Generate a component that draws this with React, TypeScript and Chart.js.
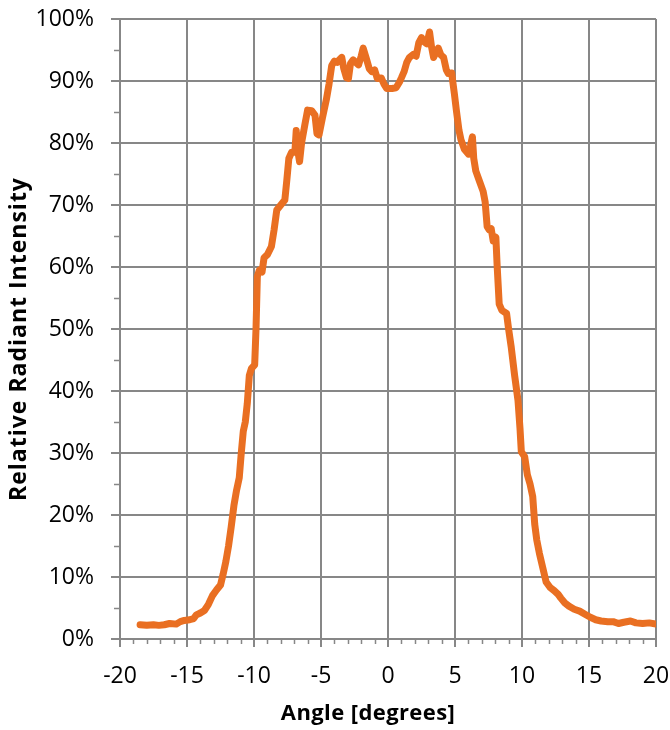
import { useEffect, useRef } from 'react';
import { Chart, registerables } from 'chart.js';

Chart.register(...registerables);

// ---- data ----
const angles = [
  -18.5, -18.0, -17.5, -17.1, -16.7, -16.3, -15.8, -15.5, -15.2, -14.8,
  -14.5, -14.3, -14.0, -13.7, -13.4, -13.1, -12.8, -12.5, -12.3, -12.1,
  -11.9, -11.7, -11.5, -11.3, -11.1, -10.95, -10.8, -10.65, -10.5, -10.35,
  -10.2, -9.95, -9.85, -9.75, -9.6, -9.4, -9.25, -9.0, -8.7, -8.5,
  -8.3, -8.0, -7.7, -7.55, -7.4, -7.2, -6.95, -6.85, -6.75, -6.6,
  -6.45, -6.2, -6.0, -5.7, -5.45, -5.3, -5.15, -4.9, -4.6, -4.4,
  -4.2, -4.0, -3.8, -3.6, -3.45, -3.3, -3.1, -2.95, -2.8, -2.6,
  -2.4, -2.2, -2.0, -1.85, -1.6, -1.4, -1.2, -1.0, -0.8, -0.5,
  -0.3, -0.1, 0.3, 0.6, 0.85, 1.0, 1.2, 1.4, 1.6, 1.9,
  2.1, 2.3, 2.5, 2.7, 2.9, 3.1, 3.25, 3.4, 3.55, 3.75,
  3.95, 4.15, 4.35, 4.5, 4.75, 4.95, 5.1, 5.3, 5.45, 5.7,
  6.0, 6.15, 6.3, 6.4, 6.55, 6.8, 7.1, 7.25, 7.4, 7.55,
  7.7, 7.85, 8.05, 8.15, 8.3, 8.5, 8.85, 9.0, 9.2, 9.45,
  9.7, 9.85, 9.95, 10.2, 10.4, 10.6, 10.8, 10.95, 11.1, 11.3,
  11.55, 11.8, 12.1, 12.4, 12.7, 12.9, 13.2, 13.5, 13.9, 14.3,
  14.7, 15.1, 15.5, 15.9, 16.4, 16.8, 17.2, 17.6, 18.1, 18.5,
  19.0, 19.5, 20.0,
];

const intensity = [
  2.3, 2.2, 2.3, 2.2, 2.3, 2.5, 2.4, 2.8, 3.0, 3.1,
  3.3, 3.9, 4.2, 4.6, 5.6, 7.0, 7.9, 8.7, 10.5, 12.5,
  15.0, 18.1, 21.5, 24.0, 26.0, 30.0, 33.5, 35.0, 38.0, 42.5,
  43.6, 44.2, 50.0, 58.5, 59.5, 59.2, 61.5, 62.0, 63.3, 66.0,
  69.2, 70.0, 70.8, 74.0, 77.5, 78.5, 78.5, 82.0, 79.0, 77.0,
  80.0, 83.0, 85.3, 85.2, 84.5, 81.5, 81.3, 84.0, 87.0, 89.5,
  92.5, 93.2, 93.0, 93.5, 93.8, 92.0, 90.5, 90.4, 92.8, 93.4,
  93.0, 92.6, 94.0, 95.3, 93.5, 92.0, 91.5, 91.8, 90.4, 90.5,
  89.5, 88.8, 88.8, 88.9, 89.8, 90.5, 91.5, 93.0, 93.8, 94.3,
  94.0, 96.2, 97.0, 96.3, 96.0, 97.9, 95.5, 93.8, 94.5, 95.3,
  94.2, 93.8, 91.8, 91.2, 91.3, 88.0, 85.3, 82.0, 80.5, 79.0,
  78.2, 79.5, 81.0, 77.5, 75.5, 74.0, 72.2, 70.5, 66.5, 66.0,
  66.2, 64.2, 64.8, 60.0, 54.0, 53.0, 52.5, 50.0, 47.0, 42.5,
  38.5, 34.0, 30.2, 29.4, 26.5, 25.0, 23.0, 18.5, 16.0, 13.8,
  11.5, 9.2, 8.3, 7.8, 7.2, 6.6, 5.8, 5.3, 4.8, 4.5,
  4.0, 3.5, 3.1, 2.9, 2.8, 2.8, 2.5, 2.7, 2.9, 2.6,
  2.5, 2.6, 2.4,
];

const xMin = -20;
const xMax = 20;
const xMajorStep = 5;
const xMinorStep = 1;
const yMin = 0;
const yMax = 100;
const yMajorStep = 10;
const yMinorStep = 5;

const xTitle = 'Angle [degrees]';
const yTitle = 'Relative Radiant Intensity';

// ---- styles ----
const LINE_COLOR = '#E96F22';
const GRID_COLOR = '#878787';
const FONT = '"Open Sans", "Liberation Sans", sans-serif';

const extrasPlugin = {
  id: 'extras',
  afterDraw(chart: any) {
    const { ctx, chartArea, scales } = chart;
    const xs = scales.x;
    const ys = scales.y;
    ctx.save();
    ctx.strokeStyle = GRID_COLOR;
    ctx.lineWidth = 1.5;
    // minor ticks on x axis
    for (let v = xMin; v <= xMax; v += xMinorStep) {
      if (Math.abs(v % xMajorStep) < 1e-9) continue;
      const px = Math.round(xs.getPixelForValue(v)) + 0.5;
      ctx.beginPath();
      ctx.moveTo(px, chartArea.bottom);
      ctx.lineTo(px, chartArea.bottom + 5);
      ctx.stroke();
    }
    // minor ticks on y axis
    for (let v = yMin + yMinorStep; v < yMax; v += yMajorStep) {
      const py = Math.round(ys.getPixelForValue(v)) + 0.5;
      ctx.beginPath();
      ctx.moveTo(chartArea.left - 6, py);
      ctx.lineTo(chartArea.left, py);
      ctx.stroke();
    }
    // axis titles
    ctx.fillStyle = '#000';
    ctx.textAlign = 'center';
    ctx.textBaseline = 'alphabetic';
    ctx.font = `bold 22px ${FONT}`;
    (ctx as any).letterSpacing = '0.4px';
    ctx.fillText(xTitle, (chartArea.left + chartArea.right) / 2 - 20, chartArea.bottom + 81);

    ctx.font = `bold 23px ${FONT}`;
    (ctx as any).letterSpacing = '1px';
    ctx.translate(26, (chartArea.top + chartArea.bottom) / 2 + 10);
    ctx.rotate(-Math.PI / 2);
    ctx.fillText(yTitle, 0, 0);
    ctx.restore();
  },
};

export default function App() {
  const canvasRef = useRef<HTMLCanvasElement | null>(null);

  useEffect(() => {
    const canvas = canvasRef.current;
    if (!canvas) return;
    const chart = new Chart(canvas, {
      type: 'line',
      data: {
        datasets: [
          {
            data: angles.map((a, i) => ({ x: a, y: intensity[i] })),
            borderColor: LINE_COLOR,
            backgroundColor: LINE_COLOR,
            borderWidth: 7,
            pointRadius: 0,
            tension: 0,
            borderCapStyle: 'round',
            borderJoinStyle: 'round',
            fill: false,
          },
        ],
      },
      options: {
        responsive: false,
        animation: false,
        devicePixelRatio: 1,
        layout: { padding: { top: 19, right: 14, left: 0, bottom: 0 } },
        plugins: {
          legend: { display: false },
          tooltip: { enabled: false },
        },
        scales: {
          x: {
            type: 'linear',
            min: xMin,
            max: xMax,
            afterFit: (s: any) => {
              s.height = 91;
              s.paddingLeft = 0;
              s.paddingRight = 0;
            },
            ticks: {
              stepSize: xMajorStep,
              autoSkip: false,
              maxRotation: 0,
              color: '#000',
              padding: 16,
              font: { family: FONT, size: 23 },
            },
            grid: {
              color: GRID_COLOR,
              lineWidth: 2,
              tickLength: 8,
              tickColor: GRID_COLOR,
            },
            border: { color: GRID_COLOR, width: 2 },
          },
          y: {
            type: 'linear',
            min: yMin,
            max: yMax,
            afterFit: (s: any) => {
              s.width = 120;
              s.paddingTop = 0;
              s.paddingBottom = 0;
            },
            ticks: {
              stepSize: yMajorStep,
              color: '#000',
              padding: 17,
              font: { family: FONT, size: 23 },
              callback: (v: any) => `${v}%`,
            },
            grid: {
              color: GRID_COLOR,
              lineWidth: 2,
              tickLength: 9,
              tickColor: GRID_COLOR,
            },
            border: { color: GRID_COLOR, width: 2 },
          },
        },
      },
      plugins: [extrasPlugin],
    });
    return () => chart.destroy();
  }, []);

  return (
    <div style={{ position: 'absolute', left: 0, top: 0, width: 670, height: 730 }}>
      <canvas ref={canvasRef} width={670} height={730} style={{ display: 'block' }} />
    </div>
  );
}
